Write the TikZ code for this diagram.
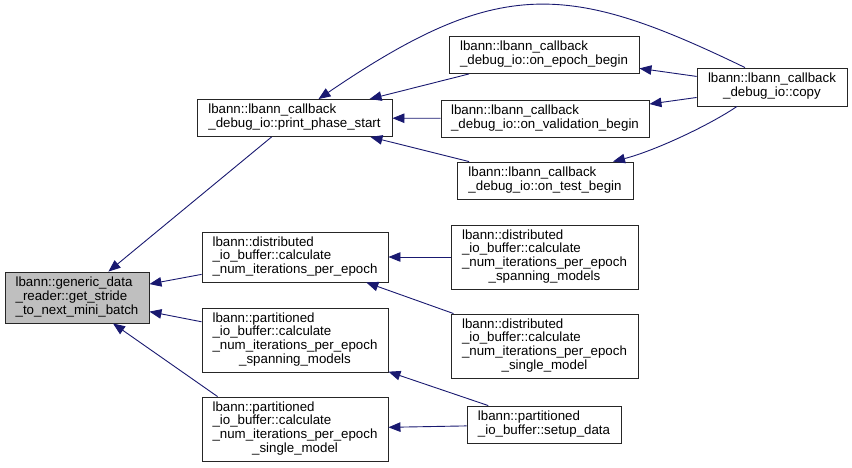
\documentclass[tikz,border=0pt]{standalone}
\usepackage{fontspec}
\setmainfont{Liberation Sans}
\usetikzlibrary{arrows.meta, calc}
\definecolor{edgeblue}{HTML}{191970}
\definecolor{rootgray}{HTML}{BFBFBF}
\newcommand{\fnlabel}[2]{\begin{tabular}{@{}l@{}}#1\\\multicolumn{1}{@{}c@{}}{#2}\end{tabular}}

\begin{document}
\begin{tikzpicture}[
    x=1pt, y=-1pt,
    font=\fontsize{13.3}{13.7}\selectfont,
    >={Triangle[length=12pt, width=9.5pt]},
    fn/.style={rectangle, draw=black!85, line width=0.9pt, fill=white, inner sep=0pt, minimum height=37pt},
    root/.style={fn, fill=rootgray},
    tall/.style={fn, minimum height=64pt},
    call/.style={->, draw=edgeblue, line width=0.9pt}
]
\useasboundingbox (0,0) rectangle (852,467);

% Root
\node[root, minimum width=144pt, minimum height=51pt] (getstride) at (77,297.5) {\fnlabel{lbann::generic\_data\\\_reader::get\_stride}{\_to\_next\_mini\_batch}};

% Direct callers
\node[fn, minimum width=195pt] (printphase) at (294.5,118) {\fnlabel{lbann::lbann\_callback}{\_debug\_io::print\_phase\_start}};
\node[fn, minimum width=186pt, minimum height=50pt] (distcalc) at (295,257) {\fnlabel{lbann::distributed\\\_io\_buffer::calculate}{\_num\_iterations\_per\_epoch}};
\node[tall, minimum width=186pt] (partspan) at (295,340) {\fnlabel{lbann::partitioned\\\_io\_buffer::calculate\\\_num\_iterations\_per\_epoch}{\_spanning\_models}};
\node[tall, minimum width=186pt] (partsingle) at (295,429) {\fnlabel{lbann::partitioned\\\_io\_buffer::calculate\\\_num\_iterations\_per\_epoch}{\_single\_model}};

% Second level
\node[fn, minimum width=190pt] (epochbegin) at (544,55) {\fnlabel{lbann::lbann\_callback}{\_debug\_io::on\_epoch\_begin}};
\node[fn, minimum width=208pt] (validbegin) at (545,118.5) {\fnlabel{lbann::lbann\_callback}{\_debug\_io::on\_validation\_begin}};
\node[fn, minimum width=176pt] (testbegin) at (545,180.5) {\fnlabel{lbann::lbann\_callback}{\_debug\_io::on\_test\_begin}};
\node[tall, minimum width=187pt] (distspan) at (544.5,257) {\fnlabel{lbann::distributed\\\_io\_buffer::calculate\\\_num\_iterations\_per\_epoch}{\_spanning\_models}};
\node[tall, minimum width=187pt] (distsingle) at (544.5,346) {\fnlabel{lbann::distributed\\\_io\_buffer::calculate\\\_num\_iterations\_per\_epoch}{\_single\_model}};
\node[fn, minimum width=154pt] (setupdata) at (544,424.5) {\fnlabel{lbann::partitioned}{\_io\_buffer::setup\_data}};

% Third level
\node[fn, minimum width=150pt, minimum height=38pt] (copy) at (772,87) {\fnlabel{lbann::lbann\_callback}{\_debug\_io::copy}};

% Calls into get_stride
\draw[call] (printphase) -- (getstride);
\draw[call] (distcalc) -- (getstride);
\draw[call] (partspan) -- (getstride);
\draw[call] ($(partsingle.north west)+(16,0)$) -- ($(getstride.south)+(36,0)$);

% Calls into print_phase_start
\draw[call] (epochbegin) -- (printphase);
\draw[call] (validbegin) -- (printphase);
\draw[call] (testbegin) -- (printphase);
\draw[call] ($(copy.north)+(-27,0)$) .. controls (568,-18) and (499,-24) .. ($(printphase.north)+(24,0)$);

% Calls from copy
\draw[call] (copy) -- (epochbegin);
\draw[call] (copy) -- (validbegin);
\draw[call] ($(copy.south)+(-35,0)$) .. controls (708,126) and (654,151) .. ($(testbegin.north)+(68,0)$);

% io_buffer callers
\draw[call] (distspan) -- (distcalc);
\draw[call] (distsingle) -- (distcalc);
\draw[call] (setupdata) -- (partspan);
\draw[call] (setupdata) -- (partsingle);

\end{tikzpicture}
\end{document}
